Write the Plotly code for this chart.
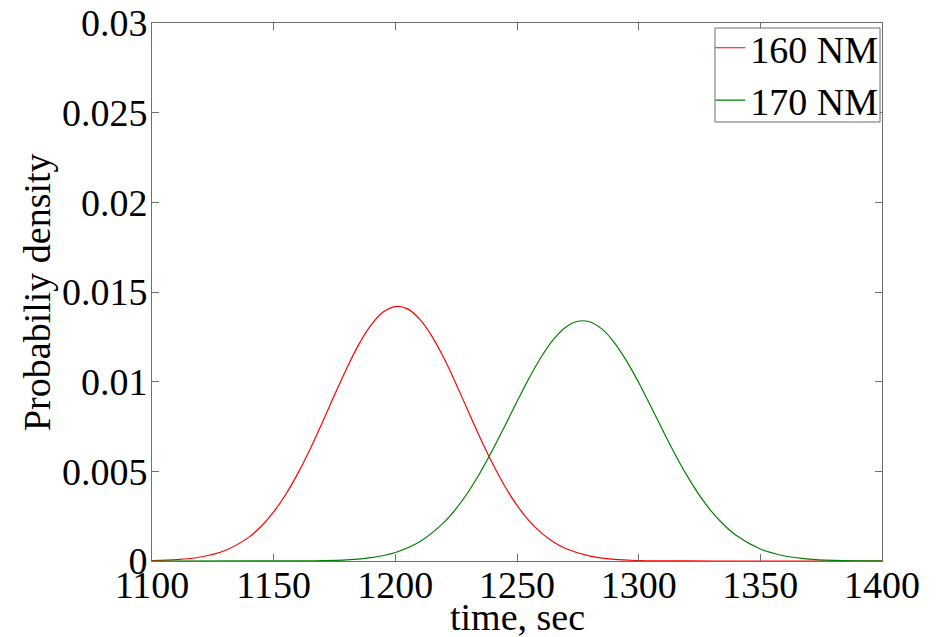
import plotly.graph_objects as go

# time grid (sec) and probability density
t_160 = [1100, 1110, 1120, 1130, 1140, 1145, 1150, 1155, 1160, 1165, 1170, 1175,
         1180, 1185, 1190, 1195, 1200, 1205, 1210, 1215, 1220, 1225, 1230, 1235,
         1240, 1245, 1250, 1255, 1260, 1265, 1270, 1280, 1290, 1300, 1310, 1320,
         1340, 1370, 1400]
p_160 = [0.0000224, 0.000075, 0.000224, 0.000584, 0.001345, 0.00195, 0.002735,
         0.00372, 0.0049, 0.00625, 0.00773, 0.00926, 0.01074, 0.01208, 0.01315,
         0.01388, 0.01419, 0.01406, 0.01349, 0.01254, 0.0113, 0.00986, 0.00834,
         0.00683, 0.00542, 0.00417, 0.0031, 0.00224, 0.00157, 0.00106, 0.000697,
         0.000274, 0.0000943, 0.0000288, 0.000008, 0.000002, 0.0, 0.0, 0.0]

t_170 = [1100, 1150, 1160, 1170, 1180, 1190, 1200, 1210, 1220, 1225, 1230, 1235,
         1240, 1245, 1250, 1255, 1260, 1265, 1270, 1275, 1280, 1285, 1290, 1295,
         1300, 1305, 1310, 1315, 1320, 1325, 1330, 1335, 1340, 1350, 1360, 1370,
         1380, 1390, 1400]
p_170 = [0.0, 0.0000015, 0.000006, 0.0000212, 0.000067, 0.000189, 0.000476,
         0.00107, 0.00215, 0.00292, 0.00386, 0.00496, 0.0062, 0.00753, 0.00889,
         0.0102, 0.01139, 0.01236, 0.01304, 0.01337, 0.01333, 0.01293, 0.01218,
         0.01116, 0.00995, 0.00862, 0.00726, 0.00594, 0.00473, 0.00366, 0.00275,
         0.00202, 0.00143, 0.000667, 0.000277, 0.000103, 0.0000342, 0.0000102,
         0.0000027]

x_ticks = [1100, 1150, 1200, 1250, 1300, 1350, 1400]
y_ticks = [0, 0.005, 0.01, 0.015, 0.02, 0.025, 0.03]
y_tick_labels = ["0", "0.005", "0.01", "0.015", "0.02", "0.025", "0.03"]

FONT = '"Liberation Serif", "Times New Roman", Times, "DejaVu Serif", serif'
FS = 38
AX = "#6e6e6e"

fig = go.Figure()
fig.add_trace(go.Scatter(x=t_160, y=p_160, mode="lines", name="160 NM",
                         line=dict(color="#ff0000", width=1.2, shape="spline", smoothing=0.8)))
fig.add_trace(go.Scatter(x=t_170, y=p_170, mode="lines", name="170 NM",
                         line=dict(color="#008000", width=1.2, shape="spline", smoothing=0.8)))

fig.update_layout(
    width=936, height=637,
    margin=dict(l=152, r=54, t=23, b=76, autoexpand=False),
    paper_bgcolor="white", plot_bgcolor="white",
    font=dict(family=FONT, size=FS, color="black"),
    showlegend=True,
    legend=dict(x=1.0018, y=1.012, xanchor="right", yanchor="top",
                bgcolor="rgba(0,0,0,0)", borderwidth=0,
                font=dict(family=FONT, size=FS), itemwidth=30,
                tracegroupgap=0),
    shapes=[dict(type="rect", xref="paper", yref="paper",
                 x0=0.7712, x1=0.9973, y0=0.816, y1=0.9907,
                 line=dict(color=AX, width=1), fillcolor="white", layer="above")],
    xaxis=dict(range=[1100, 1400], tickvals=x_ticks, ticks="inside", ticklen=7,
               tickcolor=AX, showline=True, linecolor=AX, linewidth=1, mirror="ticks",
               showgrid=False, zeroline=False, automargin=False,
               ticklabelstandoff=-10,
               tickfont=dict(family=FONT, size=FS)),
    yaxis=dict(range=[0, 0.03], tickvals=y_ticks, ticktext=y_tick_labels,
               ticks="inside", ticklen=7, tickcolor=AX, showline=True, linecolor=AX,
               linewidth=1, mirror="ticks", showgrid=False, zeroline=False,
               automargin=False, ticklabelstandoff=-4,
               tickfont=dict(family=FONT, size=FS)),
    annotations=[
        dict(text="time, sec", xref="paper", yref="paper", x=0.5, y=-0.105,
             xanchor="center", yanchor="middle", showarrow=False,
             font=dict(family=FONT, size=FS)),
        dict(text="Probabiliy density", xref="paper", yref="paper", x=-0.1575, y=0.5,
             xanchor="center", yanchor="middle", textangle=-90, showarrow=False,
             font=dict(family=FONT, size=FS)),
    ],
)

fig.write_html("out.html", config={"displayModeBar": False},
               post_script="document.body.style.margin='0';document.body.style.overflow='hidden';")
